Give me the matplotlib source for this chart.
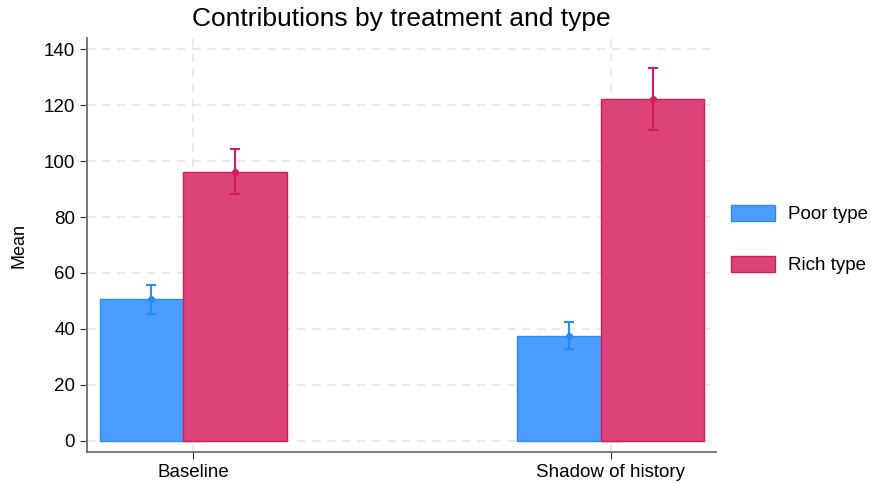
import matplotlib
matplotlib.use("Agg")
import matplotlib.pyplot as plt
from matplotlib.patches import Patch
import numpy as np

plt.rcParams['font.family'] = ['Liberation Sans', 'DejaVu Sans']

treatments = ["Baseline", "Shadow of history"]
poor_mean = [50.6, 37.6]
poor_lo = [45.3, 32.7]
poor_hi = [55.8, 42.6]
rich_mean = [96.0, 122.1]
rich_lo = [88.2, 111.1]
rich_hi = [104.4, 133.2]

poor_fill, poor_edge = '#4a9cff', '#2a8af0'
rich_fill, rich_edge = '#dc4379', '#d41b5e'

fig = plt.figure(figsize=(8.71, 4.83), dpi=100)
ax = fig.add_axes([0.0999, 0.0642, 0.7222, 0.8571])

x = np.arange(len(treatments))
width = 0.248
off = 0.1

ax.bar(x - off, poor_mean, width, color=poor_fill, edgecolor=poor_edge, linewidth=1.0, zorder=2)
ax.bar(x + off, rich_mean, width, color=rich_fill, edgecolor=rich_edge, linewidth=1.0, zorder=3)

pm = np.array(poor_mean)
rm = np.array(rich_mean)
ax.errorbar(x - off, pm, yerr=[pm - np.array(poor_lo), np.array(poor_hi) - pm],
            fmt='o', ms=4, color=poor_edge, ecolor=poor_edge, elinewidth=1.5,
            capsize=3.5, capthick=1.5, zorder=4)
ax.errorbar(x + off, rm, yerr=[rm - np.array(rich_lo), np.array(rich_hi) - rm],
            fmt='o', ms=4, color=rich_edge, ecolor=rich_edge, elinewidth=1.5,
            capsize=3.5, capthick=1.5, zorder=4)

ax.set_xlim(-0.254, 1.252)
ax.set_ylim(-4, 144)
ax.set_yticks(np.arange(0, 141, 20))
ax.set_xticks(x)
ax.set_xticklabels(treatments, fontsize=13.5)
ax.tick_params(axis='y', labelsize=13.5, length=5, color='#333333')
ax.tick_params(axis='x', length=5, color='#333333')

ax.grid(True, axis='both', linestyle=(0, (5, 4)), color='#e6e6e6', linewidth=1.2, zorder=0)
ax.set_axisbelow(True)

for s in ['top', 'right']:
    ax.spines[s].set_visible(False)
for s in ['left', 'bottom']:
    ax.spines[s].set_color('#6e6e6e')
    ax.spines[s].set_linewidth(1.3)

ax.set_ylabel("Mean", fontsize=13, labelpad=12)
ax.set_title("Contributions by treatment and type", fontsize=19, pad=9)

handles = [Patch(facecolor=poor_fill, edgecolor=poor_edge, label="Poor type"),
           Patch(facecolor=rich_fill, edgecolor=rich_edge, label="Rich type")]
fig.legend(handles=handles, loc='center left', bbox_to_anchor=(0.8393, 0.5041),
           frameon=False, fontsize=13.5, handlelength=2.35, handleheight=0.95,
           labelspacing=1.75, handletextpad=0.7, borderpad=0, borderaxespad=0)

fig.savefig("out.png", dpi=100)
